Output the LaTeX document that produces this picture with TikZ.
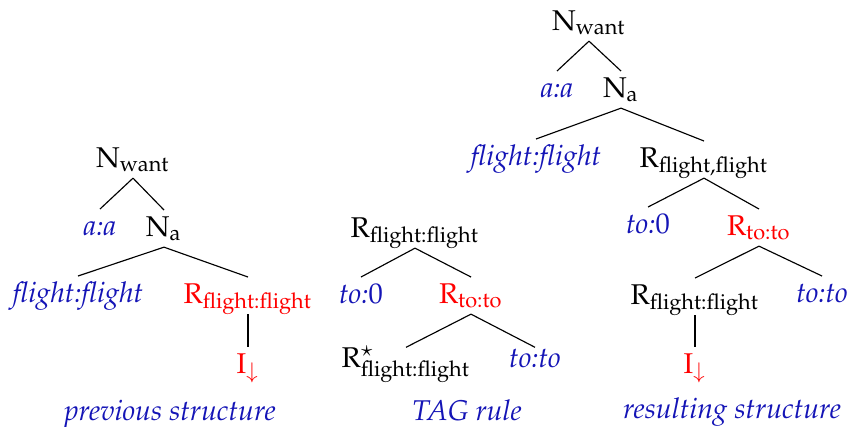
\documentclass[tikz,border=0pt]{standalone}
\usepackage[T1]{fontenc}
\usepackage{amsmath}
\usepackage{mathpazo}
\usepackage{tikz}
\usetikzlibrary{positioning}
\definecolor{lexblue}{RGB}{20,20,182}

% category symbol with an upright subscript
\newcommand{\cat}[2]{$\mathrm{#1}_{\text{#2}}$}

\begin{document}
\begin{tikzpicture}[x=0.35pt, y=-0.35pt,
    tnode/.style={anchor=base, inner sep=0pt, text height=8.9pt, text depth=3.7pt},
    lex/.style={tnode, text=lexblue, font=\itshape},
    hot/.style={tnode, text=red},
    short/.style={text height=6.7pt},
    caption/.style={anchor=base, text=lexblue, font=\itshape},
    edge/.style={draw, line width=0.4pt}]
    \useasboundingbox (0,0) rectangle (850,426);

    % previous structure
    \node[tnode] (lw)  at (133,167) {\cat{N}{want}};
    \node[lex]   (la)  at (100,235) {a:a};
    \node[tnode] (lna) at (164,236) {\cat{N}{a}};
    \node[lex]   (lff) at (78,302)  {flight:flight};
    \node[hot]   (lr)  at (248,303) {\cat{R}{flight:flight}};
    \node[hot]   (li)  at (248,373) {$\mathrm{I}_{\downarrow}$};
    \draw[edge] (lw.south) -- (la.north);
    \draw[edge] (lw.south) -- (lna.north);
    \draw[edge] (lna.south) -- (lff.north);
    \draw[edge] (lna.south) -- (lr.north);
    \draw[edge] (lr.south) -- (li.north);
    \node[caption] (lcap) at (170,420) {previous structure};

    % TAG rule
    \node[tnode] (mr)  at (415,237) {\cat{R}{flight:flight}};
    \node[lex]   (mt0) at (361,303) {to:\textup{0}};
    \node[hot]   (mrt) at (471,303) {\cat{R}{to:to}};
    \node[tnode,short] (mrs) at (406,367) {$\mathrm{R}^{\star}_{\text{flight:flight}}$};
    \node[lex,short]   (mtt) at (535,367) {to:to};
    \draw[edge] (mr.south) -- (mt0.north);
    \draw[edge] (mr.south) -- (mrt.north);
    \draw[edge] (mrt.south) -- (mrs.north);
    \draw[edge] (mrt.south) -- (mtt.north);
    \node[caption] (mcap) at (467,420) {TAG rule};

    % resulting structure
    \node[tnode] (rw)  at (589,30)  {\cat{N}{want}};
    \node[lex]   (ra)  at (557,97)  {a:a};
    \node[tnode] (rna) at (621,97)  {\cat{N}{a}};
    \node[lex]   (rff) at (536,165) {flight:flight};
    \node[tnode] (rr)  at (704,167) {\cat{R}{flight,flight}};
    \node[lex]   (rt0) at (648,233) {to:\textup{0}};
    \node[hot]   (rrt) at (759,235) {\cat{R}{to:to}};
    \node[tnode] (rr2) at (695,304) {\cat{R}{flight:flight}};
    \node[lex]   (rtt) at (822,302) {to:to};
    \node[hot]   (ri)  at (695,373) {$\mathrm{I}_{\downarrow}$};
    \draw[edge] (rw.south) -- (ra.north);
    \draw[edge] (rw.south) -- (rna.north);
    \draw[edge] (rna.south) -- (rff.north);
    \draw[edge] (rna.south) -- (rr.north);
    \draw[edge] (rr.south) -- (rt0.north);
    \draw[edge] (rr.south) -- (rrt.north);
    \draw[edge] (rrt.south) -- (rr2.north);
    \draw[edge] (rrt.south) -- (rtt.north);
    \draw[edge] (rr2.south) -- (ri.north);
    \node[caption] (rcap) at (732,418) {resulting structure};
\end{tikzpicture}
\end{document}
